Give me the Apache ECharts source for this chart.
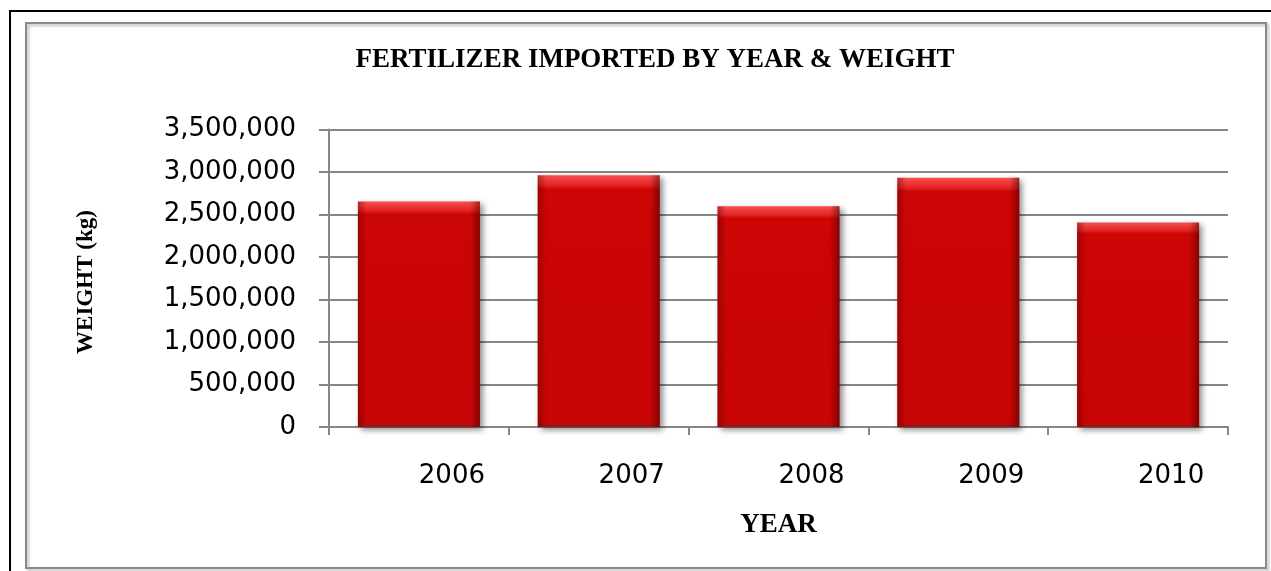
<!DOCTYPE html>
<html lang="en">
<head>
<meta charset="UTF-8">
<title>Fertilizer imported</title>
<style>
  html, body { margin: 0; padding: 0; background: #fff; }
  #chart { width: 1271px; height: 571px; }
</style>
</head>
<body>
<div id="chart"></div>
<script src="https://cdn.jsdelivr.net/npm/echarts@6/dist/echarts.min.js"></script>
<script>
// data
var years = ['2006', '2007', '2008', '2009', '2010']
var weights = [2653000, 2962000, 2596000, 2931000, 2406000]
var yTicks = { min: 0, max: 3500000, interval: 500000 }

var chart = echarts.init(document.getElementById('chart'))

var serif = '"Liberation Serif", "Times New Roman", serif'
var sans = '"DejaVu Sans", Verdana, sans-serif'

var option = {
  animation: false,
  backgroundColor: '#fff',
  title: {
    text: 'FERTILIZER IMPORTED BY YEAR & WEIGHT',
    left: 650,
    top: 42,
    textAlign: 'center',
    textStyle: { fontFamily: serif, fontWeight: 'bold', fontSize: 27, color: '#000' }
  },
  grid: { left: 329, right: 43, top: 129.5, bottom: 144 },
  xAxis: {
    type: 'category',
    data: years,
    name: 'YEAR',
    nameLocation: 'middle',
    nameGap: 85,
    nameTextStyle: { fontFamily: serif, fontWeight: 'bold', fontSize: 27, color: '#000' },
    axisLine: { lineStyle: { color: '#868686', width: 2 } },
    axisTick: { show: true, length: 8, lineStyle: { color: '#868686', width: 2 } },
    axisLabel: { fontFamily: sans, fontSize: 26, color: '#000', margin: 36, padding: [0, 0, 0, 66] }
  },
  yAxis: {
    type: 'value',
    min: yTicks.min,
    max: yTicks.max,
    interval: yTicks.interval,
    axisLine: { show: true, lineStyle: { color: '#868686', width: 2 } },
    axisTick: { show: true, length: 10, lineStyle: { color: '#868686', width: 2 } },
    splitLine: { lineStyle: { color: '#868686', width: 2 } },
    axisLabel: {
      fontFamily: sans, fontSize: 26, color: '#000', margin: 33,
      formatter: function (v) { return v.toLocaleString('en-US') }
    }
  },
  series: [
    {
      type: 'bar',
      data: weights,
      barWidth: 122,
      itemStyle: {
        color: new echarts.graphic.LinearGradient(0, 0, 0, 1, [
          { offset: 0, color: '#f55050' },
          { offset: 0.04, color: '#e42222' },
          { offset: 0.055, color: '#cc0505' },
          { offset: 0.97, color: '#c80404' },
          { offset: 1, color: '#a81010' }
        ]),
        shadowColor: 'rgba(0,0,0,0.45)',
        shadowBlur: 6,
        shadowOffsetX: 3,
        shadowOffsetY: 3
      }
    },
    {
      // side bevel overlay
      type: 'bar',
      data: weights,
      barWidth: 122,
      barGap: '-100%',
      silent: true,
      itemStyle: {
        color: new echarts.graphic.LinearGradient(0, 0, 1, 0, [
          { offset: 0, color: 'rgba(80,0,0,0.4)' },
          { offset: 0.07, color: 'rgba(80,0,0,0)' },
          { offset: 0.92, color: 'rgba(80,0,0,0)' },
          { offset: 1, color: 'rgba(60,0,0,0.5)' }
        ])
      }
    }
  ],
  graphic: [
    {
      type: 'rect',
      shape: { x: 10, y: 11, width: 1300, height: 600 },
      style: { fill: null, stroke: '#000', lineWidth: 2 },
      silent: true
    },
    {
      type: 'rect',
      shape: { x: 26, y: 23, width: 1240, height: 545 },
      style: {
        fill: null, stroke: '#8a8a8a', lineWidth: 2,
        shadowColor: 'rgba(0,0,0,0.3)', shadowBlur: 3, shadowOffsetX: 2, shadowOffsetY: 2
      },
      silent: true
    },
    {
      // y axis title
      type: 'text',
      x: 86,
      y: 282,
      rotation: Math.PI / 2,
      style: {
        text: 'WEIGHT (kg)',
        fontFamily: serif, fontWeight: 'bold', fontSize: 23, fill: '#000',
        align: 'center', verticalAlign: 'middle'
      },
      silent: true
    }
  ]
}

chart.setOption(option)
</script>
</body>
</html>
